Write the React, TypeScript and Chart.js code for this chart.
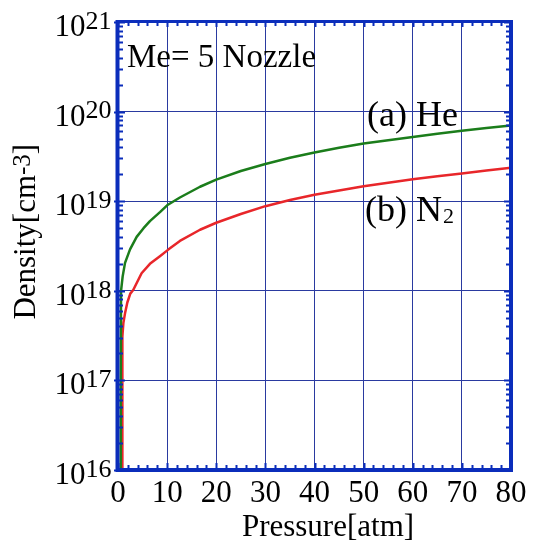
import React, { useEffect, useRef } from 'react';
import { Chart, registerables } from 'chart.js';

Chart.register(...registerables);

// ---- data ----
const hePressure = [0.5, 0.55, 0.62, 0.95, 1.43, 2.45, 3.8, 5.2, 6.5, 8.6, 10, 12.6, 16.7, 20, 25, 30, 35, 40, 45, 50, 55, 60, 65, 70, 75, 80];
const heDensity = [1e16, 1e17, 1.0e18, 1.45e18, 2.05e18, 2.9e18, 4.0e18, 5.0e18, 6.0e18, 7.6e18, 9.0e18, 1.1e19, 1.45e19, 1.74e19, 2.17e19, 2.6e19, 3.05e19, 3.5e19, 3.95e19, 4.4e19, 4.8e19, 5.2e19, 5.65e19, 6.1e19, 6.55e19, 7.0e19];

const n2Pressure = [0.85, 0.88, 0.9, 1.1, 1.43, 1.9, 2.5, 3.1, 4.8, 6.5, 8.6, 10.3, 12.6, 16.7, 20, 25, 30, 35, 40, 45, 50, 55, 60, 65, 70, 75, 80];
const n2Density = [1e16, 1e17, 3.1e17, 4.4e17, 5.6e17, 7.4e17, 9.3e17, 1.02e18, 1.57e18, 2.0e18, 2.45e18, 2.9e18, 3.6e18, 4.8e18, 5.75e18, 7.2e18, 8.8e18, 1.03e19, 1.18e19, 1.32e19, 1.47e19, 1.61e19, 1.76e19, 1.9e19, 2.04e19, 2.2e19, 2.37e19];

const xTickValues = [0, 10, 20, 30, 40, 50, 60, 70, 80];
const xTickLabels = ['0', '10', '20', '30', '40', '50', '60', '70', '80'];
const xMinorStep = 2;

const yTickValues = [1e16, 1e17, 1e18, 1e19, 1e20, 1e21];
const yTickBase = '10';
const yTickExponents = ['16', '17', '18', '19', '20', '21'];
const yMinorMultipliers = [2, 3, 4, 5, 6, 7, 8, 9];

const xTitle = 'Pressure[atm]';
const yTitleMain = 'Density[cm';
const yTitleSup = '-3';
const yTitleEnd = ']';
const noteText = 'Me= 5 Nozzle';
const heLabel = '(a) He';
const n2LabelMain = '(b) N';
const n2LabelSub = '2';

// ---- styles ----
const FRAME = '#0b2dbb';
const GRID = '#2a3aa0';
const GREEN = '#1b7d1b';
const RED = '#e8262a';
const TEXT = '#000000';
const font = (size: number) => `${size}px "Liberation Serif", "Times New Roman", serif`;

const decorPlugin = {
  id: 'decor',
  afterDatasetsDraw(chart: any) {
    const { ctx, chartArea: a, scales } = chart;
    const xs = scales.x;
    const ys = scales.y;
    ctx.save();
    ctx.strokeStyle = FRAME;
    // minor ticks
    ctx.lineWidth = 2;
    ctx.beginPath();
    for (let v = xs.min; v <= xs.max + 1e-9; v += xMinorStep) {
      const px = Math.round(xs.getPixelForValue(v)) + 0.5;
      const major = Math.abs(v % 10) < 1e-9;
      const len = major ? 7 : 5;
      ctx.moveTo(px, a.bottom);
      ctx.lineTo(px, a.bottom - len);
      ctx.moveTo(px, a.top);
      ctx.lineTo(px, a.top + (major ? 5 : 4));
    }
    for (let d = 0; d < yTickValues.length - 1; d++) {
      for (const m of yMinorMultipliers) {
        const py = Math.round(ys.getPixelForValue(yTickValues[d] * m)) + 0.5;
        ctx.moveTo(a.left, py);
        ctx.lineTo(a.left + 5, py);
        ctx.moveTo(a.right, py);
        ctx.lineTo(a.right - 5, py);
      }
    }
    for (const v of yTickValues) {
      const py = Math.round(ys.getPixelForValue(v)) + 0.5;
      ctx.moveTo(a.left - 4, py);
      ctx.lineTo(a.left + 7, py);
      ctx.moveTo(a.right, py);
      ctx.lineTo(a.right - 7, py);
    }
    ctx.stroke();
    // frame
    ctx.lineCap = 'square';
    ctx.lineWidth = 4;
    ctx.beginPath();
    ctx.moveTo(a.left - 0.5, a.top);
    ctx.lineTo(a.left - 0.5, a.bottom);
    ctx.lineTo(a.right, a.bottom);
    ctx.lineTo(a.right, a.top);
    ctx.stroke();
    ctx.lineWidth = 3;
    ctx.beginPath();
    ctx.moveTo(a.left, a.top - 0.5);
    ctx.lineTo(a.right, a.top - 0.5);
    ctx.stroke();
    ctx.restore();
  },
  afterDraw(chart: any) {
    const { ctx, chartArea: a, scales } = chart;
    const xs = scales.x;
    const ys = scales.y;
    ctx.save();
    ctx.fillStyle = TEXT;
    ctx.textBaseline = 'alphabetic';

    // y tick labels with superscripts
    yTickValues.forEach((v, i) => {
      const py = ys.getPixelForValue(v);
      ctx.font = font(31);
      ctx.textAlign = 'right';
      ctx.fillText(yTickBase, a.left - 32.5, py + 14);
      ctx.font = font(26);
      ctx.textAlign = 'left';
      ctx.fillText(yTickExponents[i], a.left - 32.5, py + 6.7);
    });

    // x tick labels
    ctx.font = font(31);
    ctx.textAlign = 'center';
    xTickValues.forEach((v, i) => {
      ctx.fillText(xTickLabels[i], xs.getPixelForValue(v), a.bottom + 31.5);
    });

    // x title
    ctx.font = font(31);
    ctx.textAlign = 'center';
    ctx.fillText(xTitle, a.left + 210, a.bottom + 66);

    // y title (rotated)
    ctx.save();
    ctx.translate(35, 231.7);
    ctx.rotate(-Math.PI / 2);
    ctx.textAlign = 'left';
    ctx.font = font(31);
    const w1 = ctx.measureText(yTitleMain).width;
    const w3 = ctx.measureText(yTitleEnd).width;
    ctx.font = font(25);
    const w2 = ctx.measureText(yTitleSup).width;
    let sx = -(w1 + w2 + w3) / 2;
    ctx.font = font(31);
    ctx.fillText(yTitleMain, sx, 0);
    sx += w1;
    ctx.font = font(25);
    ctx.fillText(yTitleSup, sx, -5);
    sx += w2;
    ctx.font = font(31);
    ctx.fillText(yTitleEnd, sx, 0);
    ctx.restore();

    // annotations
    ctx.textAlign = 'left';
    ctx.font = font(33);
    ctx.fillText(noteText, a.left + 9, a.top + 45);
    ctx.font = font(36);
    ctx.fillText(heLabel, a.left + 249, a.top + 104);
    ctx.fillText(n2LabelMain, a.left + 247, a.top + 199);
    const wn = ctx.measureText(n2LabelMain).width;
    ctx.font = font(22);
    ctx.fillText(n2LabelSub, a.left + 248 + wn, a.top + 201);
    ctx.restore();
  },
};

export default function App() {
  const canvasRef = useRef<HTMLCanvasElement | null>(null);

  useEffect(() => {
    const canvas = canvasRef.current;
    if (!canvas) return;
    const chart = new Chart(canvas, {
      type: 'line',
      data: {
        datasets: [
          {
            label: heLabel,
            data: hePressure.map((p, i) => ({ x: p, y: heDensity[i] })),
            borderColor: GREEN,
            borderWidth: 2.5,
            pointRadius: 0,
            tension: 0,
            borderJoinStyle: 'round',
            fill: false,
          },
          {
            label: n2LabelMain + n2LabelSub,
            data: n2Pressure.map((p, i) => ({ x: p, y: n2Density[i] })),
            borderColor: RED,
            borderWidth: 2.5,
            pointRadius: 0,
            tension: 0,
            borderJoinStyle: 'round',
            fill: false,
          },
        ],
      },
      options: {
        responsive: false,
        animation: false,
        events: [],
        layout: { padding: { left: 0, top: 22, right: 22, bottom: 0 } },
        plugins: { legend: { display: false }, tooltip: { enabled: false }, title: { display: false } },
        scales: {
          x: {
            type: 'linear',
            min: 0,
            max: 80,
            afterBuildTicks: (s: any) => {
              s.ticks = xTickValues.map((v) => ({ value: v }));
            },
            afterFit: (s: any) => {
              s.height = 75;
            },
            grid: { color: GRID, lineWidth: 1, drawTicks: false },
            border: { display: false },
            ticks: { display: false },
          },
          y: {
            type: 'logarithmic',
            min: 1e16,
            max: 1e21,
            afterBuildTicks: (s: any) => {
              s.ticks = yTickValues.map((v) => ({ value: v }));
            },
            afterFit: (s: any) => {
              s.width = 118;
            },
            grid: { color: GRID, lineWidth: 1, drawTicks: false },
            border: { display: false },
            ticks: { display: false },
          },
        },
      } as any,
      plugins: [decorPlugin],
    });
    return () => chart.destroy();
  }, []);

  return (
    <div style={{ position: 'fixed', left: 0, top: 0, width: 533, height: 545, background: '#fff' }}>
      <canvas ref={canvasRef} width={533} height={545} style={{ display: 'block' }} />
    </div>
  );
}
